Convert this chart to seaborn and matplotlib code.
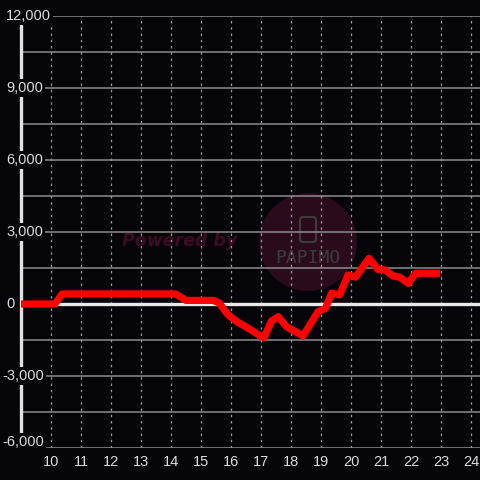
import matplotlib
matplotlib.use('Agg')
import matplotlib.pyplot as plt
import matplotlib.transforms as mtransforms
from matplotlib.patches import Circle, FancyBboxPatch
import seaborn as sns
import pandas as pd

# saldo ao longo do dia (hora decimal)
horas = [9.0, 10.13, 10.37, 14.15, 14.5, 15.4, 15.6, 15.9, 16.2, 16.5, 17.0, 17.1,
         17.35, 17.58, 17.85, 18.4, 18.9, 19.15, 19.35, 19.62, 19.9, 20.15, 20.6,
         20.9, 21.13, 21.4, 21.63, 21.91, 22.15, 22.85]
saldo = [0, 0, 420, 420, 150, 150, 50, -450, -740, -950, -1350, -1400,
         -700, -530, -950, -1330, -320, -180, 450, 380, 1210, 1120, 1900,
         1440, 1420, 1170, 1110, 860, 1280, 1280]
y_ticks = [12000, 9000, 6000, 3000, 0, -3000, -6000]
y_labels = ['12,000', '9,000', '6,000', '3,000', '0', '-3,000', '-6,000']
x_ticks = list(range(10, 25))

fundo = '#050408'
texto = '#dcdcdc'

sns.set_style('dark')
plt.rcParams['font.family'] = ['Liberation Sans', 'DejaVu Sans']

df = pd.DataFrame({'hora': horas, 'saldo': saldo})

fig = plt.figure(figsize=(4.8, 4.8), dpi=100, facecolor=fundo)
ax = fig.add_axes([21/480, 32/480, 459/480, 432/480])
ax.set_facecolor(fundo)
for s in ax.spines.values():
    s.set_visible(False)

ax.set_xlim(9, 24.3)
ax.set_ylim(-6000, 12000)

# marca d'agua
ax.add_patch(Circle((308/480, 238/480), 49/480, transform=fig.transFigure,
                    facecolor='#2a0b1c', edgecolor='none', zorder=0.2, clip_on=False))
ax.text(180/480, 1-241/480, 'Powered by', transform=fig.transFigure, ha='center', va='center',
        fontsize=12.5, fontweight='bold', fontstyle='italic', family='DejaVu Sans',
        color='#3b0c22', zorder=0.3)
ax.text(308/480, 1-258/480, 'PAPIMO', transform=fig.transFigure, ha='center', va='center',
        fontsize=13, family='DejaVu Sans Mono', color='#3c3c3c', zorder=0.3)
ax.add_patch(FancyBboxPatch((300/480, 238/480), 16/480, 25/480,
                            boxstyle='round,pad=0,rounding_size=0.006', transform=fig.transFigure,
                            facecolor='none', edgecolor='#3c3c3c', lw=1.5, zorder=0.3, clip_on=False))

# grades
for v in range(-6000, 12001, 1500):
    ax.axhline(v, color='#8c8c8c', lw=1.1, zorder=1)
for h in x_ticks:
    ax.axvline(h, color='#9a9a9a', lw=0.9, ls=(0, (2, 3)), zorder=1)

ax.axhline(0, color='#e8e8e8', lw=2.4, zorder=2)
ax.axvline(9, ymin=0.03, ymax=0.98, color='#e0e0e0', lw=2.4, zorder=2, clip_on=False)

sns.lineplot(data=df, x='hora', y='saldo', color='#ff0000', lw=5.2, sort=False,
             estimator=None, ax=ax, zorder=3)
ax.lines[-1].set_solid_capstyle('projecting')
ax.lines[-1].set_solid_joinstyle('round')

ax.set_xlabel('')
ax.set_ylabel('')
ax.set_xticks(x_ticks)
ax.set_xticklabels([str(h) for h in x_ticks])
ax.set_yticks([])
ax.tick_params(axis='x', length=0, pad=5, colors=texto, labelsize=10.5)

trans = mtransforms.blended_transform_factory(fig.transFigure, ax.transData)
for v, lab in zip(y_ticks, y_labels):
    xp = 6/480 if v >= 0 else 2/480
    yp = v if v > -6000 else -5750
    ax.text(xp, yp, lab, transform=trans, ha='left', va='center', fontsize=10.5,
            color=texto, zorder=4, clip_on=False,
            bbox=dict(facecolor=fundo, edgecolor='none', pad=1.5))

fig.savefig('out.png', dpi=100, facecolor=fundo)
